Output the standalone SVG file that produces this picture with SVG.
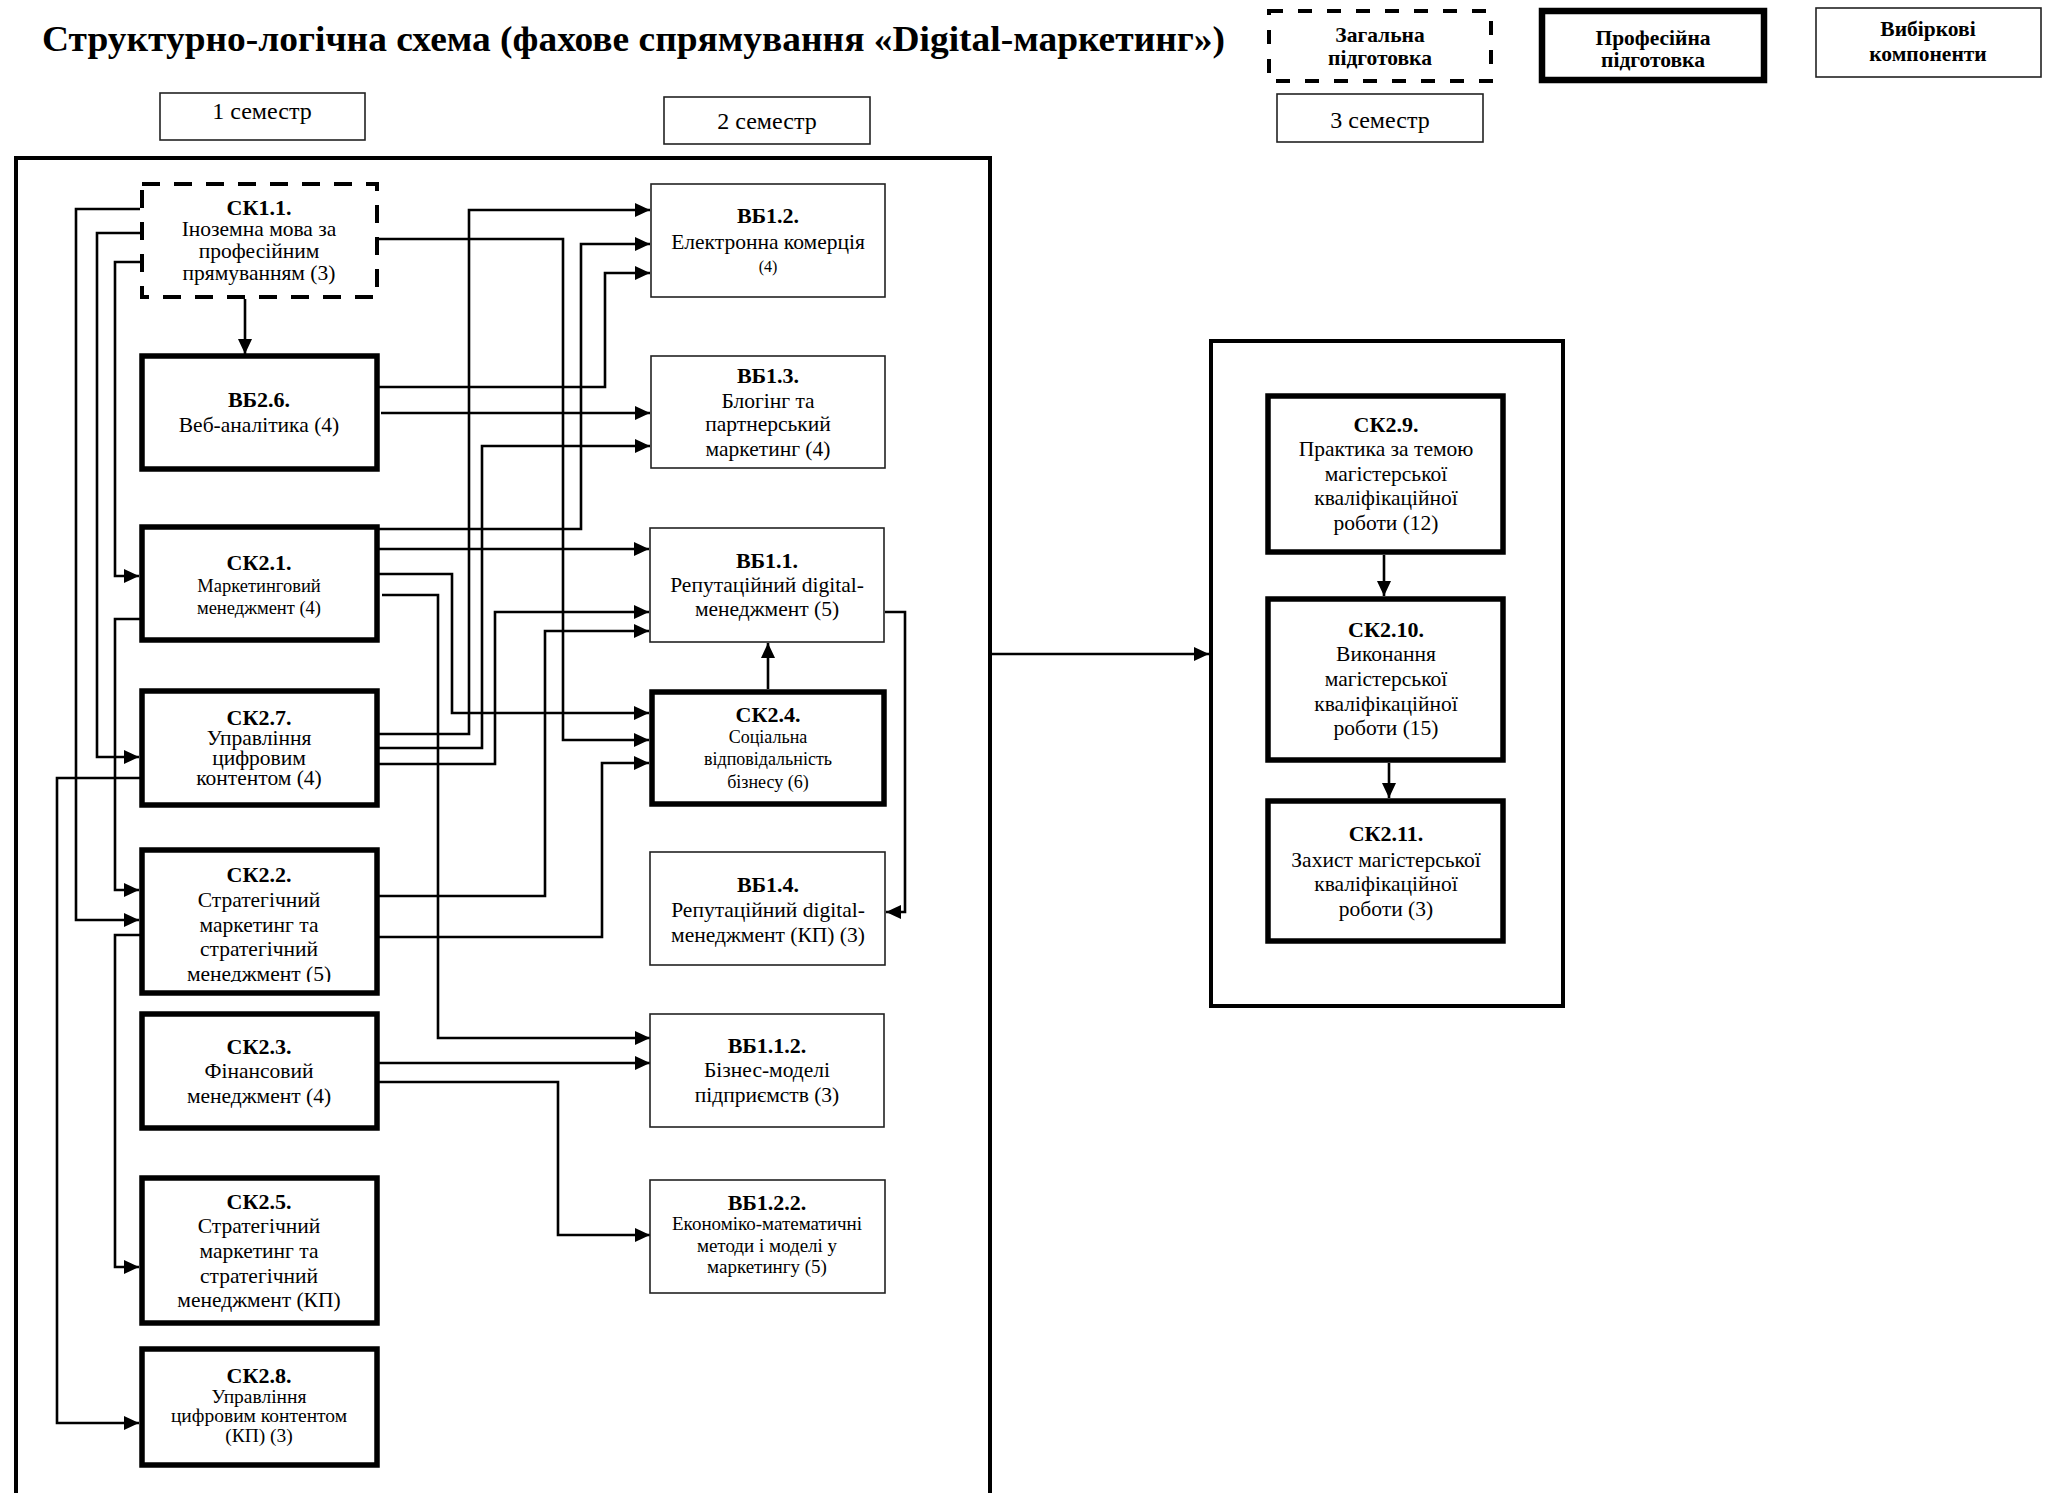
<svg xmlns="http://www.w3.org/2000/svg" width="2045" height="1493" viewBox="0 0 2045 1493">
<style>
text{font-family:"Liberation Serif","Times New Roman",serif;fill:#000;text-anchor:middle}
.b{font-weight:bold;font-size:22px}
.t{font-size:21.5px}
.s{font-size:18.5px}
.xs{font-size:16px}
.sem{font-size:24px}
.lg{font-weight:bold;font-size:21.5px}
.thin{fill:#fff;stroke:#222;stroke-width:1.6}
.thick{fill:#fff;stroke:#000;stroke-width:5.5}
.dash{fill:#fff;stroke:#000;stroke-width:4;stroke-dasharray:18 14}
.frame{fill:none;stroke:#000;stroke-width:4}
.c{fill:none;stroke:#000;stroke-width:2.6}
</style>
<defs>
<marker id="ah" markerUnits="userSpaceOnUse" markerWidth="16" markerHeight="16" refX="15" refY="7" orient="auto">
<path d="M0,0 L15,7 L0,14 z" fill="#000"/>
</marker>
<clipPath id="clip22"><rect x="142" y="850" width="235" height="132"/></clipPath>
</defs>
<rect width="2045" height="1493" fill="#fff"/>

<text x="42" y="51" style="font-weight:bold;font-size:36px;text-anchor:start" textLength="1183" lengthAdjust="spacingAndGlyphs">Структурно-логічна схема (фахове спрямування «Digital-маркетинг»)</text>

<g id="legend-general">
<rect class="dash" x="1269" y="11" width="222" height="70" style="stroke-dasharray:14 15"/>
<text class="lg" x="1380" y="42">Загальна</text>
<text class="lg" x="1380" y="65">підготовка</text>
</g>
<g id="legend-prof">
<rect class="thick" x="1542" y="11" width="222" height="69" style="stroke-width:6.5"/>
<text class="lg" x="1653" y="45">Професійна</text>
<text class="lg" x="1653" y="67">підготовка</text>
</g>
<g id="legend-elective">
<rect class="thin" x="1816" y="8" width="225" height="69"/>
<text class="lg" x="1928" y="35.5">Вибіркові</text>
<text class="lg" x="1928" y="61">компоненти</text>
</g>

<g id="sem1"><rect class="thin" x="160" y="93" width="205" height="47"/><text class="sem" x="262" y="119">1 семестр</text></g>
<g id="sem2"><rect class="thin" x="664" y="97" width="206" height="47"/><text class="sem" x="767" y="129">2 семестр</text></g>
<g id="sem3"><rect class="thin" x="1277" y="94" width="206" height="48"/><text class="sem" x="1380" y="128">3 семестр</text></g>

<rect id="frame1" class="frame" x="16" y="158" width="974" height="1360"/>
<rect id="frame2" class="frame" x="1211" y="341" width="352" height="665"/>

<g id="connectors">
<polyline class="c" points="245,299 245,354" marker-end="url(#ah)"/>
<polyline class="c" points="140,209 76,209 76,920 139,920" marker-end="url(#ah)"/>
<polyline class="c" points="140,233 97,233 97,757 139,757" marker-end="url(#ah)"/>
<polyline class="c" points="140,262 115,262 115,576 139,576" marker-end="url(#ah)"/>
<polyline class="c" points="140,619 115,619 115,890 139,890" marker-end="url(#ah)"/>
<polyline class="c" points="140,935 115,935 115,1267 139,1267" marker-end="url(#ah)"/>
<polyline class="c" points="140,778 57,778 57,1423 139,1423" marker-end="url(#ah)"/>
<polyline class="c" points="379,239 563,239 563,740 649,740" marker-end="url(#ah)"/>
<polyline class="c" points="379,387 605,387 605,273 650,273" marker-end="url(#ah)"/>
<polyline class="c" points="381,413 650,413" marker-end="url(#ah)"/>
<polyline class="c" points="379,529 581,529 581,244 650,244" marker-end="url(#ah)"/>
<polyline class="c" points="379,549 649,549" marker-end="url(#ah)"/>
<polyline class="c" points="379,574 452,574 452,713 649,713" marker-end="url(#ah)"/>
<polyline class="c" points="382,595 438,595 438,1038 650,1038" marker-end="url(#ah)"/>
<polyline class="c" points="379,734 469,734 469,210 650,210" marker-end="url(#ah)"/>
<polyline class="c" points="379,748 482,748 482,446 650,446" marker-end="url(#ah)"/>
<polyline class="c" points="379,764 495,764 495,612 649,612" marker-end="url(#ah)"/>
<polyline class="c" points="379,896 545,896 545,631 649,631" marker-end="url(#ah)"/>
<polyline class="c" points="379,937 602,937 602,763 649,763" marker-end="url(#ah)"/>
<polyline class="c" points="379,1063 650,1063" marker-end="url(#ah)"/>
<polyline class="c" points="379,1082 558,1082 558,1235 650,1235" marker-end="url(#ah)"/>
<polyline class="c" points="768,689 768,643" marker-end="url(#ah)"/>
<polyline class="c" points="885,612 905,612 905,912 886,912" marker-end="url(#ah)"/>
<polyline class="c" points="992,654 1209,654" marker-end="url(#ah)"/>
<polyline class="c" points="1384,555 1384,596" marker-end="url(#ah)"/>
<polyline class="c" points="1389,763 1389,798" marker-end="url(#ah)"/>
</g>

<g id="SK1.1">
<rect class="dash" x="142" y="184" width="235" height="113"/>
<text class="b" x="259" y="215">СК1.1.</text>
<text class="t" x="259" y="236">Іноземна мова за</text>
<text class="t" x="259" y="258">професійним</text>
<text class="t" x="259" y="280">прямуванням (3)</text>
</g>
<g id="VB2.6">
<rect class="thick" x="142" y="356" width="235" height="113"/>
<text class="b" x="259" y="407">ВБ2.6.</text>
<text class="t" x="259" y="432">Веб-аналітика (4)</text>
</g>
<g id="SK2.1">
<rect class="thick" x="142" y="527" width="235" height="113"/>
<text class="b" x="259" y="570">СК2.1.</text>
<text class="s" x="259" y="592">Маркетинговий</text>
<text class="s" x="259" y="614">менеджмент (4)</text>
</g>
<g id="SK2.7">
<rect class="thick" x="142" y="691" width="235" height="114"/>
<text class="b" x="259" y="725">СК2.7.</text>
<text class="t" x="259" y="745">Управління</text>
<text class="t" x="259" y="765">цифровим</text>
<text class="t" x="259" y="785">контентом (4)</text>
</g>
<g id="SK2.2">
<rect class="thick" x="142" y="850" width="235" height="143"/>
<text class="b" x="259" y="882">СК2.2.</text>
<text class="t" x="259" y="907">Стратегічний</text>
<text class="t" x="259" y="932">маркетинг та</text>
<text class="t" x="259" y="956">стратегічний</text>
<text class="t" x="259" y="981" clip-path="url(#clip22)">менеджмент (5)</text>
</g>
<g id="SK2.3">
<rect class="thick" x="142" y="1014" width="235" height="114"/>
<text class="b" x="259" y="1054">СК2.3.</text>
<text class="t" x="259" y="1078">Фінансовий</text>
<text class="t" x="259" y="1103">менеджмент (4)</text>
</g>
<g id="SK2.5">
<rect class="thick" x="142" y="1178" width="235" height="145"/>
<text class="b" x="259" y="1209">СК2.5.</text>
<text class="t" x="259" y="1233">Стратегічний</text>
<text class="t" x="259" y="1258">маркетинг та</text>
<text class="t" x="259" y="1283">стратегічний</text>
<text class="t" x="259" y="1307">менеджмент (КП)</text>
</g>
<g id="SK2.8">
<rect class="thick" x="142" y="1349" width="235" height="116"/>
<text class="b" x="259" y="1383">СК2.8.</text>
<text class="t" x="259" y="1403" style="font-size:19.5px">Управління</text>
<text class="t" x="259" y="1422" style="font-size:19.5px">цифровим контентом</text>
<text class="t" x="259" y="1442" style="font-size:19.5px">(КП) (3)</text>
</g>

<g id="VB1.2">
<rect class="thin" x="651" y="184" width="234" height="113"/>
<text class="b" x="768" y="223">ВБ1.2.</text>
<text class="t" x="768" y="249">Електронна комерція</text>
<text class="xs" x="768" y="272">(4)</text>
</g>
<g id="VB1.3">
<rect class="thin" x="651" y="356" width="234" height="112"/>
<text class="b" x="768" y="383">ВБ1.3.</text>
<text class="t" x="768" y="408">Блогінг та</text>
<text class="t" x="768" y="431">партнерський</text>
<text class="t" x="768" y="456">маркетинг (4)</text>
</g>
<g id="VB1.1">
<rect class="thin" x="650" y="528" width="234" height="114"/>
<text class="b" x="767" y="568">ВБ1.1.</text>
<text class="t" x="767" y="592">Репутаційний digital-</text>
<text class="t" x="767" y="616">менеджмент (5)</text>
</g>
<g id="SK2.4">
<rect class="thick" x="652" y="692" width="232" height="112"/>
<text class="b" x="768" y="722">СК2.4.</text>
<text class="s" x="768" y="743" style="font-size:18px">Соціальна</text>
<text class="s" x="768" y="765" style="font-size:18px">відповідальність</text>
<text class="s" x="768" y="788" style="font-size:18px">бізнесу (6)</text>
</g>
<g id="VB1.4">
<rect class="thin" x="650" y="852" width="235" height="113"/>
<text class="b" x="768" y="892">ВБ1.4.</text>
<text class="t" x="768" y="917">Репутаційний digital-</text>
<text class="t" x="768" y="942">менеджмент (КП) (3)</text>
</g>
<g id="VB1.1.2">
<rect class="thin" x="650" y="1014" width="234" height="113"/>
<text class="b" x="767" y="1053">ВБ1.1.2.</text>
<text class="t" x="767" y="1077">Бізнес-моделі</text>
<text class="t" x="767" y="1102">підприємств (3)</text>
</g>
<g id="VB1.2.2">
<rect class="thin" x="650" y="1180" width="235" height="113"/>
<text class="b" x="767" y="1210">ВБ1.2.2.</text>
<text class="s" x="767" y="1230" style="font-size:19px">Економіко-математичні</text>
<text class="s" x="767" y="1252" style="font-size:19px">методи і моделі у</text>
<text class="s" x="767" y="1273" style="font-size:19px">маркетингу (5)</text>
</g>

<g id="SK2.9">
<rect class="thick" x="1268" y="396" width="235" height="156"/>
<text class="b" x="1386" y="432">СК2.9.</text>
<text class="t" x="1386" y="456">Практика за темою</text>
<text class="t" x="1386" y="481">магістерської</text>
<text class="t" x="1386" y="505">кваліфікаційної</text>
<text class="t" x="1386" y="530">роботи (12)</text>
</g>
<g id="SK2.10">
<rect class="thick" x="1268" y="599" width="235" height="161"/>
<text class="b" x="1386" y="637">СК2.10.</text>
<text class="t" x="1386" y="661">Виконання</text>
<text class="t" x="1386" y="686">магістерської</text>
<text class="t" x="1386" y="711">кваліфікаційної</text>
<text class="t" x="1386" y="735">роботи (15)</text>
</g>
<g id="SK2.11">
<rect class="thick" x="1268" y="801" width="235" height="140"/>
<text class="b" x="1386" y="841">СК2.11.</text>
<text class="t" x="1386" y="867">Захист магістерської</text>
<text class="t" x="1386" y="891">кваліфікаційної</text>
<text class="t" x="1386" y="916">роботи (3)</text>
</g>
</svg>
